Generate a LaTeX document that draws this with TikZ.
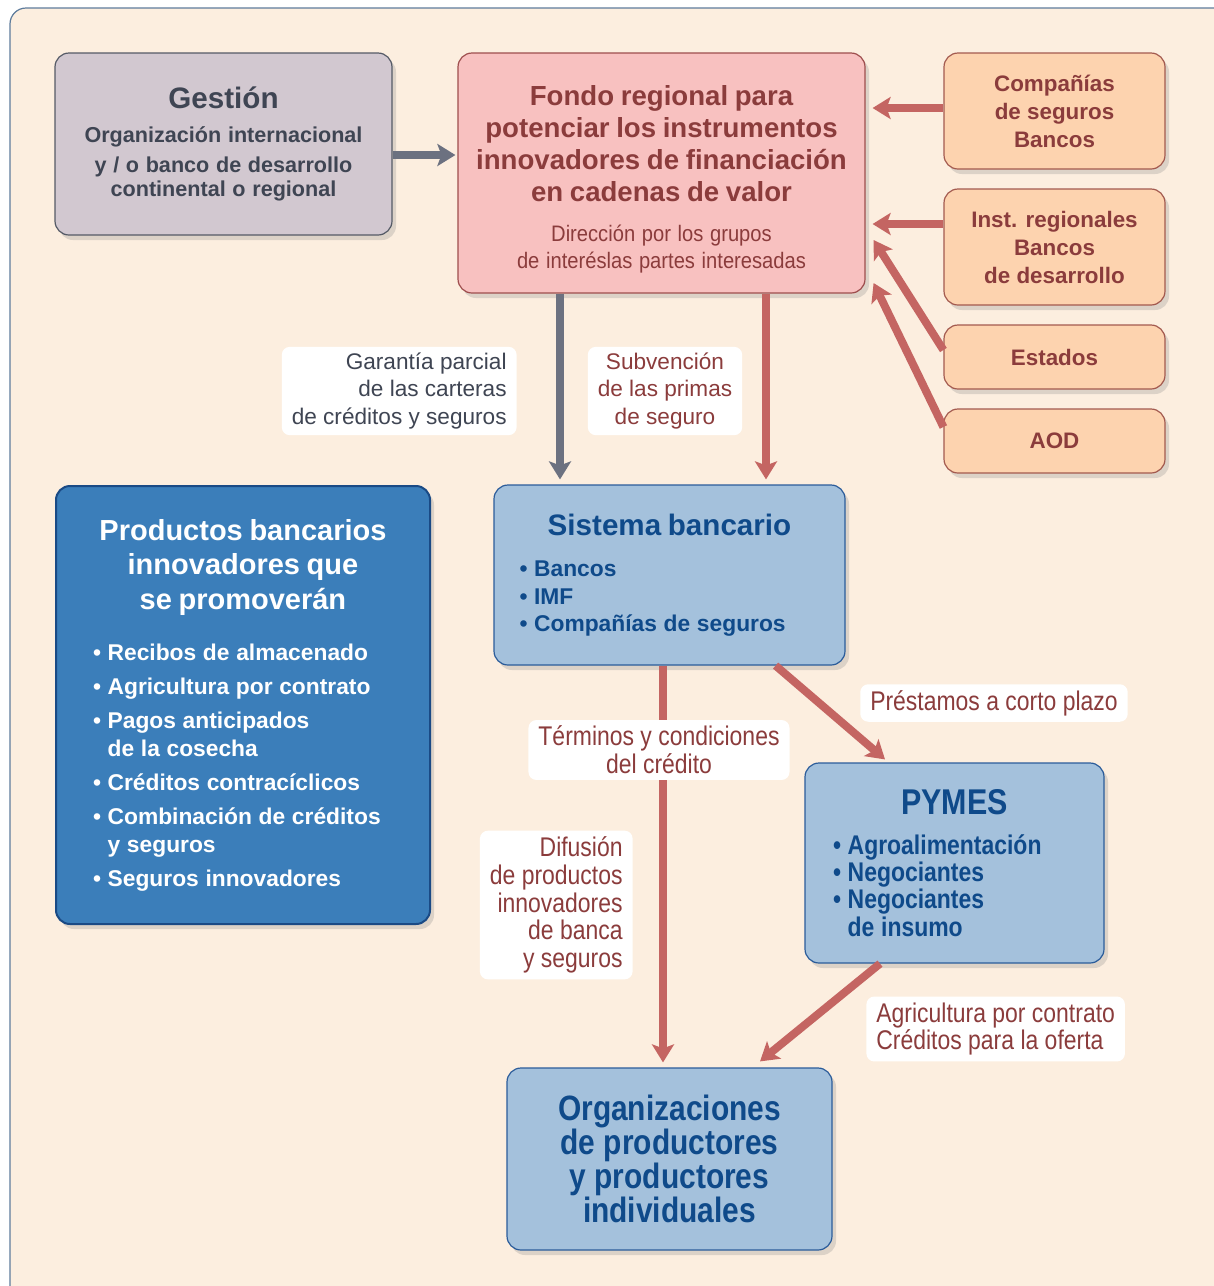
\documentclass[tikz,border=0pt]{standalone}
\usepackage{fontspec}
\setmainfont{Liberation Sans}
\newfontfamily\narrowfont[FakeStretch=0.85]{Liberation Sans}
\newfontfamily\semifont[FakeStretch=0.9]{Liberation Sans}
\usetikzlibrary{arrows.meta,shadows}
\lineskiplimit=-100pt

\definecolor{bgcream}{HTML}{FCEEDF}
\definecolor{framecol}{HTML}{5E7C9C}
\definecolor{gestfill}{HTML}{D2C8D0}
\definecolor{gestline}{HTML}{555A66}
\definecolor{greytext}{HTML}{3F4553}
\definecolor{fondofill}{HTML}{F8C1C0}
\definecolor{fondoline}{HTML}{9E4E4E}
\definecolor{redtext}{HTML}{8B3C3C}
\definecolor{orangefill}{HTML}{FDD3AF}
\definecolor{orangeline}{HTML}{A35A4F}
\definecolor{darkblue}{HTML}{3B7EBA}
\definecolor{darkblueline}{HTML}{1A4A85}
\definecolor{lightblue}{HTML}{A4C1DC}
\definecolor{lightblueline}{HTML}{2B5C9A}
\definecolor{bluetext}{HTML}{0F4A8A}
\definecolor{arrred}{HTML}{C46562}
\definecolor{arrgrey}{HTML}{6C7180}

\tikzset{
  box/.style={draw, line width=0.6pt, rounded corners=7pt, inner sep=0pt,
    drop shadow={shadow xshift=2pt, shadow yshift=-2.5pt, opacity=0.25}},
  gestbox/.style={box, fill=gestfill, draw=gestline, text=greytext, align=center},
  fondobox/.style={box, fill=fondofill, draw=fondoline, text=redtext, align=center},
  donorbox/.style={box, fill=orangefill, draw=orangeline, text=redtext, align=center,
    minimum width=110.5pt, font=\bfseries\fontsize{11.2}{14}\selectfont},
  prodbox/.style={box, fill=darkblue, draw=darkblueline, line width=1pt, text=white, align=left},
  bluebox/.style={box, fill=lightblue, draw=lightblueline, text=bluetext},
  lbl/.style={fill=white, rounded corners=4pt, inner xsep=5pt, inner ysep=3pt},
  greylbl/.style={lbl, text=greytext, font=\fontsize{11.3}{13.75}\selectfont},
  redlbl/.style={lbl, text=redtext, font=\fontsize{11.3}{13.75}\selectfont},
  narrowlbl/.style={lbl, text=redtext, font=\narrowfont\fontsize{13.5}{13.9}\selectfont},
  arr/.style={line width=4pt, -{Stealth[length=9pt, width=11pt, inset=2pt]}},
  redarr/.style={arr, draw=arrred},
  greyarr/.style={arr, draw=arrgrey}
}

\begin{document}
\begin{tikzpicture}[x=0.5pt, y=-0.5pt]
  \useasboundingbox (0,0) rectangle (1214,1286);
  % frame
  \fill[white] (0,0) rectangle (1214,1286);
  \draw[fill=bgcream, draw=framecol, line width=0.6pt, rounded corners=8pt] (10,8) rectangle (1240,1310);

  % boxes
  \node[gestbox, minimum width=168.5pt, minimum height=91pt, text width=160pt] (gestion) at (223.5,144)
    {\bfseries\fontsize{14.8}{17}\selectfont Gestión\par\vspace{2pt}
     \fontsize{10.8}{15}\selectfont Organización internacional\\
     y / o banco de desarrollo\\ continental o regional};
  \node[fondobox, minimum width=203.5pt, minimum height=120pt, text width=196pt] (fondo) at (661.5,173)
    {\bfseries\fontsize{13.8}{16}\selectfont Fondo regional para\\ potenciar los instrumentos\\
     innovadores de financiación\\ en cadenas de valor\par\vspace{6.5pt}
     \mdseries\semifont\fontsize{11.2}{13.5}\selectfont Dirección por los grupos\\ de interéslas partes interesadas\par\vspace{-6pt}};
  \node[donorbox, minimum height=58pt] (companias) at (1054.5,111)
    {Compañías\\ de seguros\\ Bancos};
  \node[donorbox, minimum height=58pt] (instreg) at (1054.5,247)
    {Inst. regionales\\ Bancos\\ de desarrollo};
  \node[donorbox, minimum height=32pt] (estados) at (1054.5,357) {Estados};
  \node[donorbox, minimum height=32pt] (aod) at (1054.5,441) {AOD};

  \node[prodbox, minimum width=187pt, minimum height=219pt, text width=150pt] (productos) at (243,705)
    {{\centering\bfseries\fontsize{14.5}{17.25}\selectfont Productos bancarios\\ innovadores que\\ se promoverán\par}
     \vspace{11.5pt}
     \bfseries\fontsize{11.4}{14}\selectfont
     • Recibos de almacenado\\[3pt]
     • Agricultura por contrato\\[3pt]
     • Pagos anticipados\\ \phantom{• }de la cosecha\\[3pt]
     • Créditos contracíclicos\\[3pt]
     • Combinación de créditos\\ \phantom{• }y seguros\\[5pt]
     • Seguros innovadores};
  \node[bluebox, align=left, minimum width=175.5pt, minimum height=90pt, text width=150pt] (sistema) at (669.5,575)
    {{\centering\bfseries\fontsize{14.8}{17}\selectfont Sistema bancario\par}
     \vspace{6.75pt}
     \bfseries\fontsize{11.4}{13.75}\selectfont
     • Bancos\\ • IMF\\[1.5pt] • Compañías de seguros};
  \node[bluebox, align=left, minimum width=149.5pt, minimum height=100pt, text width=121.5pt] (pymes) at (954.5,863)
    {{\centering\narrowfont\bfseries\fontsize{17.9}{20}\selectfont PYMES\par}
     \vspace{6pt}
     \narrowfont\bfseries\fontsize{13.5}{13.7}\selectfont
     • Agroalimentación\\ • Negociantes\\ • Negociantes\\ \phantom{• }de insumo};
  \node[bluebox, align=center, minimum width=162.5pt, minimum height=91pt,
    font=\narrowfont\bfseries\fontsize{17.6}{17}\selectfont] (organiz) at (669.5,1159)
    {Organizaciones\\ de productores\\ y productores\\ individuales};

  % arrows
  \draw[greyarr, shorten >=1pt] ([yshift=-5.5pt]gestion.east) -- ([yshift=-5.5pt]gestion.east -| fondo.west);
  \draw[redarr, shorten >=3.5pt] ([yshift=1.5pt]companias.west) -- ([yshift=1.5pt]companias.west -| fondo.east);
  \draw[redarr, shorten >=3.5pt] ([yshift=11.5pt]instreg.west) -- ([yshift=11.5pt]instreg.west -| fondo.east);
  \draw[redarr] ([yshift=3.5pt]estados.west) -- ([xshift=4pt, yshift=-33.5pt]fondo.east);
  \draw[redarr] ([yshift=7pt]aod.west) -- ([xshift=4pt, yshift=-55pt]fondo.east);
  \draw[greyarr, shorten >=2.5pt] ([xshift=-50.75pt]fondo.south) -- ([xshift=-50.75pt]fondo.south |- sistema.north);
  \draw[redarr, shorten >=2.5pt] ([xshift=52.25pt]fondo.south) -- ([xshift=52.25pt]fondo.south |- sistema.north);
  \draw[redarr] ([xshift=-35pt]sistema.south east) -- ([xshift=-34.75pt, yshift=1.5pt]pymes.north);
  \draw[redarr, shorten >=2.5pt] ([xshift=-3.25pt]sistema.south) -- ([xshift=-3.25pt]sistema.south |- organiz.north);
  \draw[redarr] ([xshift=-37.25pt]pymes.south) -- ([xshift=45.25pt, yshift=3pt]organiz.north);

  % labels
  \node[greylbl, align=right, anchor=east] (garantia) at (517,391)
    {Garantía parcial\\ de las carteras\\ de créditos y seguros};
  \node[redlbl, align=center] (subvencion) at (665,391)
    {Subvención\\ de las primas\\ de seguro};
  \node[narrowlbl, align=center] (terminos) at (659,750)
    {Términos y condiciones\\ del crédito};
  \node[narrowlbl] (prestamos) at (994,703) {Préstamos a corto plazo};
  \node[narrowlbl, align=right, anchor=east] (difusion) at (633,905)
    {Difusión\\ de productos\\ innovadores\\ de banca\\ y seguros};
  \node[narrowlbl, align=left, anchor=west] (agricultura) at (866,1029)
    {Agricultura por contrato\\ Créditos para la oferta};
\end{tikzpicture}
\end{document}
